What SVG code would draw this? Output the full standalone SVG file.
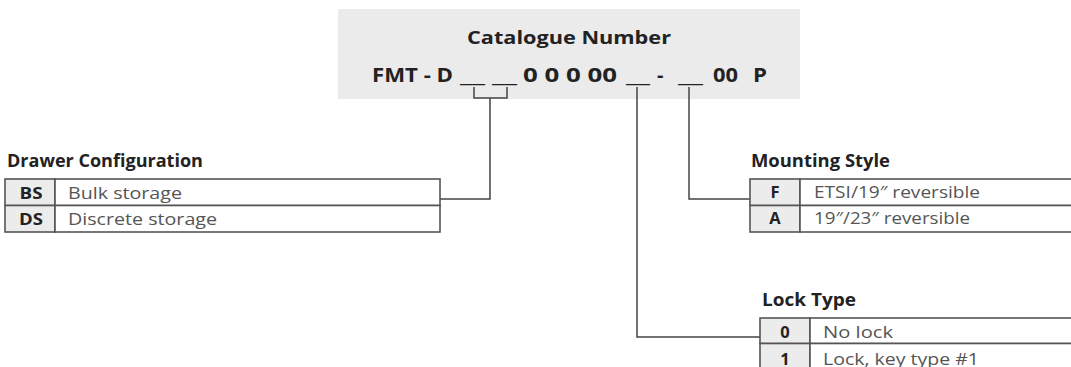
<svg xmlns="http://www.w3.org/2000/svg" width="1071" height="367" viewBox="0 0 1071 367">
<style>
text{font-family:"Open Sans","Liberation Sans",sans-serif}
.hd{font-weight:700;fill:#222;font-size:17px}
.code{font-weight:700;fill:#222;font-size:20px}
.key{font-weight:700;fill:#222;font-size:16.5px;text-anchor:middle}
.val{font-weight:400;fill:#555;font-size:16px}
.cell{fill:#fff;stroke:#555;stroke-width:1.6}
.kc{fill:#ececec;stroke:#555;stroke-width:1.6}
.con{fill:none;stroke:#444;stroke-width:1.5}
</style>
<g id="catalogue">
<rect x="338" y="9" width="462" height="90" fill="#ebebeb"/>
<text class="hd" x="569" y="44" text-anchor="middle" font-size="18" textLength="204" lengthAdjust="spacingAndGlyphs">Catalogue Number</text>
<text class="code" y="82" x="372" textLength="81" lengthAdjust="spacingAndGlyphs">FMT - D</text>
<text class="code" y="82" x="460" textLength="25" lengthAdjust="spacingAndGlyphs">__</text>
<text class="code" y="82" x="492" textLength="25" lengthAdjust="spacingAndGlyphs">__</text>
<text class="code" y="82" x="523" textLength="94" lengthAdjust="spacingAndGlyphs">0 0 0 00</text>
<text class="code" y="82" x="626" textLength="24" lengthAdjust="spacingAndGlyphs">__</text>
<text class="code" y="82" x="657">-</text>
<text class="code" y="82" x="678" textLength="25" lengthAdjust="spacingAndGlyphs">__</text>
<text class="code" y="82" x="713" textLength="25" lengthAdjust="spacingAndGlyphs">00</text>
<text class="code" y="82" x="753" textLength="14" lengthAdjust="spacingAndGlyphs">P</text>
</g>
<g id="connectors">
<path class="con" d="M474 87 V98 H507 V87"/>
<path class="con" d="M490 98 V199 H440"/>
<path class="con" d="M637 87 V337 H760"/>
<path class="con" d="M689 87 V199 H750"/>
</g>
<g id="drawer-configuration">
<text class="hd" x="7" y="167" textLength="196" lengthAdjust="spacingAndGlyphs">Drawer Configuration</text>
<rect class="kc" x="5" y="179" width="50" height="26.5"/>
<rect class="cell" x="55" y="179" width="385" height="26.5"/>
<rect class="kc" x="5" y="205.5" width="50" height="26.5"/>
<rect class="cell" x="55" y="205.5" width="385" height="26.5"/>
<text class="key" x="31" y="199" textLength="23" lengthAdjust="spacingAndGlyphs">BS</text>
<text class="val" x="68" y="199" textLength="114" lengthAdjust="spacingAndGlyphs">Bulk storage</text>
<text class="key" x="31" y="225" textLength="24" lengthAdjust="spacingAndGlyphs">DS</text>
<text class="val" x="68" y="225" textLength="149" lengthAdjust="spacingAndGlyphs">Discrete storage</text>
</g>
<g id="mounting-style">
<text class="hd" x="751" y="167" textLength="139" lengthAdjust="spacingAndGlyphs">Mounting Style</text>
<rect class="kc" x="750" y="179" width="50" height="26.5"/>
<rect class="cell" x="800" y="179" width="280" height="26.5"/>
<rect class="kc" x="750" y="205.5" width="50" height="26.5"/>
<rect class="cell" x="800" y="205.5" width="280" height="26.5"/>
<text class="key" x="775" y="198">F</text>
<text class="val" x="814" y="198" textLength="166" lengthAdjust="spacingAndGlyphs">ETSI/19″ reversible</text>
<text class="key" x="775" y="224">A</text>
<text class="val" x="814" y="224" textLength="156" lengthAdjust="spacingAndGlyphs">19″/23″ reversible</text>
</g>
<g id="lock-type">
<text class="hd" x="762" y="306" textLength="94" lengthAdjust="spacingAndGlyphs">Lock Type</text>
<rect class="kc" x="760" y="318" width="50" height="25.5"/>
<rect class="cell" x="810" y="318" width="270" height="25.5"/>
<rect class="kc" x="760" y="343.5" width="50" height="26.5"/>
<rect class="cell" x="810" y="343.5" width="270" height="26.5"/>
<text class="key" x="785" y="338">0</text>
<text class="val" x="823" y="338" textLength="70" lengthAdjust="spacingAndGlyphs">No lock</text>
<text class="key" x="785" y="365">1</text>
<text class="val" x="823" y="365" textLength="156" lengthAdjust="spacingAndGlyphs">Lock, key type #1</text>
</g>
</svg>
